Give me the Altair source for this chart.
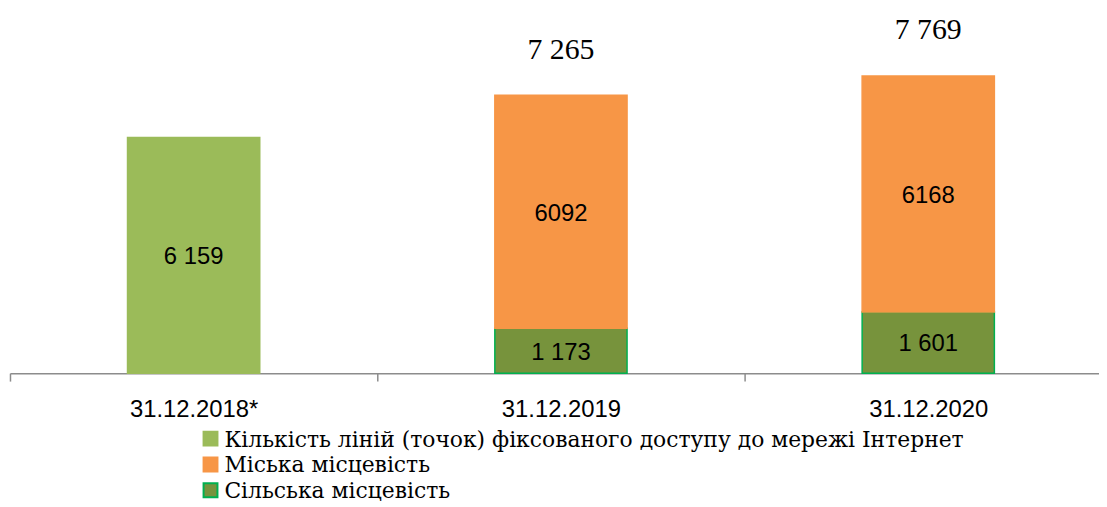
import altair as alt
import pandas as pd

dates = ["31.12.2018*", "31.12.2019", "31.12.2020"]
series_names = [
    "Кількість ліній (точок) фіксованого доступу до мережі Інтернет",
    "Міська місцевість",
    "Сільська місцевість",
]
lines_total = [6159, None, None]
urban = [None, 6092, 6168]
rural = [None, 1173, 1601]
lines_labels = ["6 159", "", ""]
urban_labels = ["", "6092", "6168"]
rural_labels = ["", "1 173", "1 601"]
total_labels = ["", "7 265", "7 769"]

fills = ["#9BBB59", "#F79646", "#77933C"]
strokes = ["#9BBB59", "#F79646", "#00B050"]

rows = []
for name, vals, labs, ordv in [
    (series_names[0], lines_total, lines_labels, 0),
    (series_names[2], rural, rural_labels, 0),
    (series_names[1], urban, urban_labels, 1),
]:
    for d, v, lab in zip(dates, vals, labs):
        if v is not None:
            rows.append({"date": d, "series": name, "value": v, "label": lab, "ord": ordv})
df = pd.DataFrame(rows)

tot = df.groupby("date", as_index=False)["value"].sum()
tot["label"] = tot["date"].map(dict(zip(dates, total_labels)))
tot = tot[tot["label"] != ""]

leg_df = pd.DataFrame({"series": series_names})

xscale = alt.Scale(domain=dates, range=[0, 1110], paddingInner=0, paddingOuter=0)
yscale = alt.Scale(domain=[0, 9500])
fill_scale = alt.Scale(domain=series_names, range=fills)
stroke_scale = alt.Scale(domain=series_names, range=strokes)
leg_y = alt.Y("series:N", sort=series_names, axis=None,
              scale=alt.Scale(type="point", domain=series_names, range=[432, 484], padding=0))

x_enc = alt.X("date:N", sort=dates, scale=xscale, title=None,
              axis=alt.Axis(tickBand="extent", labelAngle=0, labelFont="Liberation Sans",
                            labelFontSize=24, labelColor="black", labelBaseline="alphabetic",
                            labelPadding=36, tickSize=8, tickColor="#8c8c8c",
                            domainColor="#8c8c8c", domainWidth=1.5, tickWidth=1.5,
                            grid=False))

bars = alt.Chart(df).mark_bar(width=alt.RelativeBandSize(0.36), strokeWidth=1.5).encode(
    x=x_enc,
    y=alt.Y("value:Q", stack="zero", scale=yscale, axis=None),
    color=alt.Color("series:N", scale=fill_scale, legend=None),
    stroke=alt.Stroke("series:N", scale=stroke_scale, legend=None),
    order=alt.Order("ord:Q"),
)

seg_text = alt.Chart(df).transform_stack(
    stack="value", groupby=["date"], sort=[alt.SortField("ord", order="ascending")], as_=["y0", "y1"]
).transform_calculate(mid="(datum.y0 + datum.y1) / 2").mark_text(
    font="Liberation Sans", fontSize=24, color="black", baseline="middle", dy=2
).encode(
    x=alt.X("date:N", sort=dates, scale=xscale),
    y=alt.Y("mid:Q", scale=yscale, axis=None),
    text="label:N",
)

tot_text = alt.Chart(tot).mark_text(
    font="Liberation Serif", fontSize=30, color="black", baseline="alphabetic", dy=-37
).encode(
    x=alt.X("date:N", sort=dates, scale=xscale),
    y=alt.Y("value:Q", scale=yscale, axis=None),
    text="label:N",
)

leg_sym = alt.Chart(leg_df).mark_square(size=196, strokeWidth=2, opacity=1).encode(
    x=alt.value(202),
    y=leg_y,
    color=alt.Color("series:N", scale=fill_scale, legend=None),
    stroke=alt.Stroke("series:N", scale=stroke_scale, legend=None),
)

leg_txt = alt.Chart(leg_df).mark_text(
    font="DejaVu Serif", fontSize=22, color="black", align="left", baseline="middle", dy=1
).encode(
    x=alt.value(216),
    y=leg_y,
    text="series:N",
)

chart = alt.layer(bars, seg_text, tot_text, leg_sym, leg_txt).resolve_scale(
    y="independent"
).properties(
    width=1097, height=366,
    autosize=alt.AutoSizeParams(type="none"),
    padding={"left": 2, "top": 0, "right": 0, "bottom": 133},
).configure_view(stroke=None)

chart.save("out.html", embed_options={"renderer": "svg", "actions": False})
